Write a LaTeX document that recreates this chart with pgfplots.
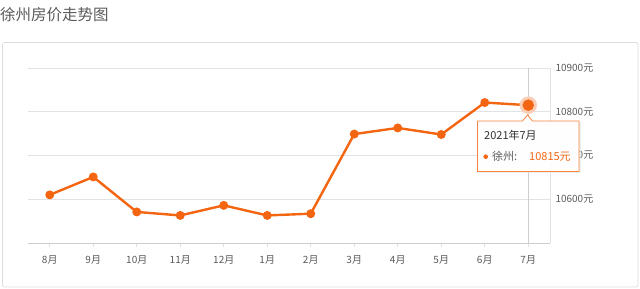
\documentclass[border=0pt]{standalone}
\usepackage{fontspec}
\setmainfont{Noto Sans CJK SC}
\usepackage{pgfplots}
\pgfplotsset{compat=1.18}
\definecolor{lineor}{RGB}{243,101,16}
\definecolor{haloor}{RGB}{250,205,180}
\definecolor{gridc}{RGB}{226,226,226}
\definecolor{axc}{RGB}{205,205,205}
\definecolor{txtc}{RGB}{90,90,90}
\definecolor{boxc}{RGB}{221,221,221}
\begin{document}
\begin{tikzpicture}
\useasboundingbox (0pt,0pt) rectangle (640pt,289pt);
% title
\node[anchor=west, inner sep=0, text=txtc, font=\fontsize{15.5}{16}\selectfont] at (0pt,274pt) {徐州房价走势图};
% outer box
\draw[boxc, line width=0.8pt, rounded corners=2pt] (2.5pt,2pt) rectangle (638pt,246.5pt);
\begin{axis}[
  at={(28pt,46pt)}, anchor=south west,
  width=522pt, height=175pt, scale only axis,
  xmin=-0.5, xmax=11.5, ymin=10500, ymax=10900,
  scaled y ticks=false,
  xtick={0,...,11},
  xticklabels={8月,9月,10月,11月,12月,1月,2月,3月,4月,5月,6月,7月},
  ytick={10600,10700,10800,10900},
  yticklabels={10600元,10700元,10800元,10900元},
  yticklabel pos=right,
  yticklabel style={anchor=west, xshift=2pt},
  ymajorgrids, grid style={gridc, line width=0.8pt},
  axis x line*=bottom, axis y line*=right,
  x axis line style={draw=axc, line width=0.8pt, -},
  y axis line style={draw=gridc, line width=0.8pt, -},
  xtick style={draw=gridc, line width=0.6pt},
  ytick style={draw=none},
  major tick length=4pt,
  xtick align=outside,
  tick label style={text=txtc, font=\fontsize{10}{12}\selectfont},
  xticklabel style={yshift=-5pt},
  /pgf/number format/assume math mode=true,
  clip=false,
]
\addplot[axc, line width=0.8pt] coordinates {(11,10500) (11,10900)};
\addplot[lineor, line width=2.4pt, mark=*, mark size=3.2pt, mark options={solid}] coordinates {
(0,10610) (1,10651) (2,10571) (3,10563) (4,10586) (5,10563)
(6,10567) (7,10749) (8,10763) (9,10748) (10,10821) (11,10815)
};
\addplot[haloor, only marks, mark=*, mark size=8.5pt] coordinates {(11,10815)};
\addplot[lineor, only marks, mark=*, mark size=5.5pt] coordinates {(11,10815)};
\end{axis}
% tooltip
\fill[black!10, opacity=0.6] (479pt,116pt) rectangle (581pt,167pt);
\draw[lineor!80, line width=0.8pt, fill=white, fill opacity=0.95]
  (477.5pt,168pt) -- (522.5pt,168pt) -- (527.5pt,174pt) -- (532.5pt,168pt) -- (579pt,168pt) -- (579pt,117.5pt) -- (477.5pt,117.5pt) -- cycle;
\node[anchor=west, inner sep=0, text=black!80, font=\fontsize{11}{12}\selectfont] at (484pt,154pt) {2021年7月};
\fill[lineor] (485.7pt,132.3pt) circle (2.3pt);
\node[anchor=west, inner sep=0, text=txtc, font=\fontsize{11}{12}\selectfont] at (492pt,132.5pt) {徐州:};
\node[anchor=west, inner sep=0, text=lineor, font=\fontsize{11}{12}\selectfont] at (529pt,132.5pt) {10815元};
\end{tikzpicture}
\end{document}
